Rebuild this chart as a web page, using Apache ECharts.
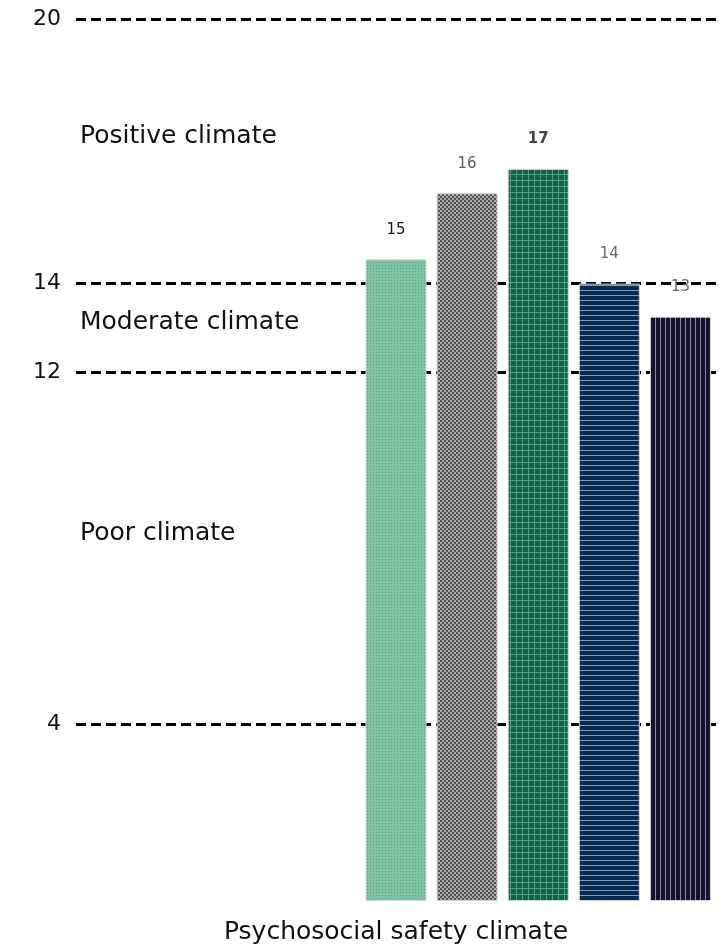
<!DOCTYPE html>
<html>
<head>
<meta charset="utf-8">
<script src="https://cdn.jsdelivr.net/npm/echarts@6/dist/echarts.min.js"></script>
<style>
html,body{margin:0;padding:0;background:#fff;}
#chart{width:726px;height:945px;}
</style>
</head>
<body>
<div id="chart"></div>
<script>
// ---- data ----
const categories = ['', '', '', '', 'Bar 1', 'Bar 2', 'Bar 3', 'Bar 4', 'Bar 5'];
const values = [null, null, null, null, 14.55, 16.05, 16.6, 14.0, 13.25];
const valueLabels = ['', '', '', '', '15', '16', '17', '14', '13'];
const yTickLabels = [4, 12, 14, 20];
const zoneLabels = ['Positive climate', 'Moderate climate', 'Poor climate'];
const axisTitle = 'Psychosocial safety climate';

const FONT = '"DejaVu Sans", sans-serif';

function makePattern(w, h, draw) {
  const c = document.createElement('canvas');
  c.width = w; c.height = h;
  draw(c.getContext('2d'), w, h);
  return c;
}
const patterns = [
  makePattern(3, 3, (g) => { g.fillStyle = '#80c4a6'; g.fillRect(0,0,3,3); g.fillStyle = '#5e9f84'; g.fillRect(1,1,1,1); }),
  makePattern(4, 4, (g) => { g.fillStyle = '#ababab'; g.fillRect(0,0,4,4); g.fillStyle = '#505050'; g.fillRect(0,0,2,2); g.fillRect(2,2,2,2); }),
  makePattern(6, 6, (g) => { g.fillStyle = '#0f6447'; g.fillRect(0,0,6,6); g.fillStyle = '#5a9c84'; g.fillRect(0,0,6,1); g.fillRect(0,0,1,6); }),
  makePattern(5, 5, (g) => { g.fillStyle = '#072a52'; g.fillRect(0,0,5,5); g.fillStyle = '#7f9dbd'; g.fillRect(0,0,5,1); }),
  makePattern(5, 5, (g) => { g.fillStyle = '#15122d'; g.fillRect(0,0,5,5); g.fillStyle = '#8984a8'; g.fillRect(0,0,1,5); })
];
const labelColors = ['#1a1a1a', '#5a5a5a', '#444444', '#6a6a6a', '#6a6a6a'];
const labelWeights = ['normal', 'normal', 'bold', 'normal', 'normal'];

const seriesData = values.map((v, i) => {
  if (v === null) return '-';
  const k = i - 4;
  return {
    value: v,
    itemStyle: { color: { image: patterns[k], repeat: 'repeat' }, borderColor: '#d4d4d4', borderWidth: 1 },
    label: { color: labelColors[k], fontWeight: labelWeights[k] }
  };
});

// split line colours: only drawn at the labelled ticks (0..20 step 2)
const splitColors = [];
for (let t = 0; t <= 20; t += 2) splitColors.push(yTickLabels.includes(t) ? '#000' : 'rgba(0,0,0,0)');

const chart = echarts.init(document.getElementById('chart'));
chart.setOption({
  animation: false,
  grid: { left: 76, right: 10, top: 19, bottom: 44, containLabel: false, outerBoundsMode: 'none' },
  xAxis: {
    type: 'category',
    data: categories,
    axisLine: { show: false },
    axisTick: { show: false },
    axisLabel: { show: false },
    name: axisTitle,
    nameLocation: 'middle',
    nameGap: 19,
    nameTextStyle: { fontFamily: FONT, fontSize: 25, color: '#111' }
  },
  yAxis: {
    type: 'value',
    min: 0, max: 20, interval: 2,
    axisLine: { show: false },
    axisTick: { show: false },
    axisLabel: {
      margin: 15,
      fontFamily: FONT, fontSize: 22, color: '#111',
      formatter: (v) => yTickLabels.includes(v) ? String(v) : ''
    },
    splitLine: { show: true, lineStyle: { color: splitColors, width: 3, type: [10, 5] } }
  },
  series: [{
    type: 'bar',
    data: seriesData,
    barWidth: 61,
    label: {
      show: true,
      position: 'top',
      distance: 22,
      fontFamily: FONT,
      fontSize: 15,
      formatter: (p) => valueLabels[p.dataIndex]
    }
  }],
  graphic: zoneLabels.map((t, i) => ({
    type: 'text',
    x: 80,
    y: [136, 322, 533][i],
    style: { text: t, font: '25px ' + FONT, fill: '#111', verticalAlign: 'middle' }
  }))
});
</script>
</body>
</html>
